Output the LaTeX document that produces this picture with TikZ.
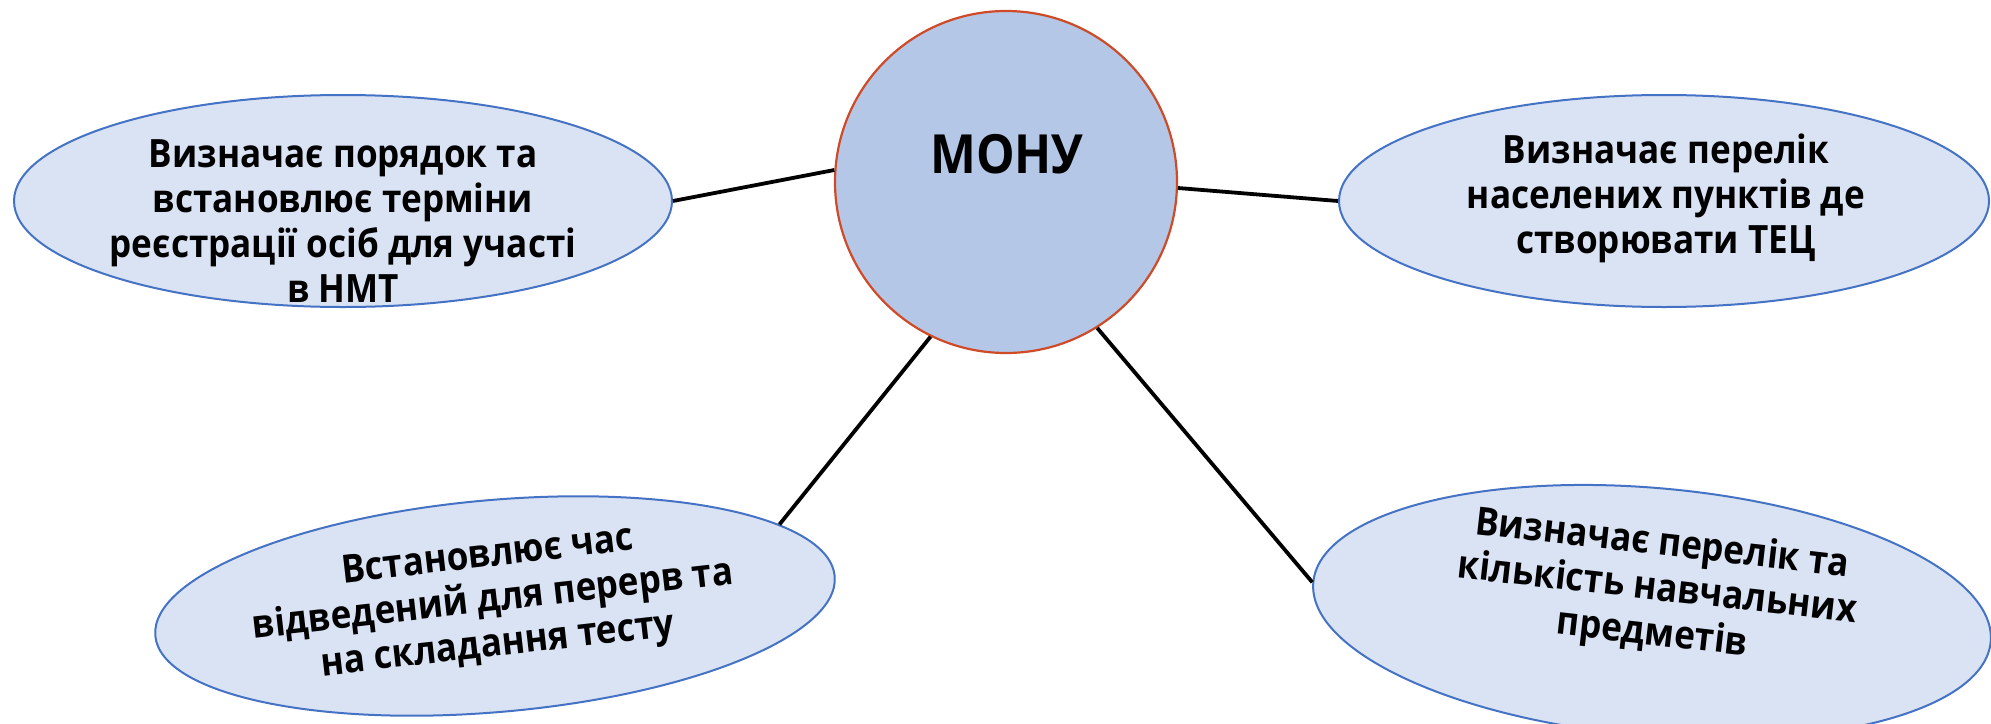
\documentclass[tikz,border=0pt]{standalone}
\usepackage{fontspec}
\usetikzlibrary{shapes.geometric}
\newfontfamily\mfont{Open Sans}[FakeStretch=0.9]
\definecolor{hubfill}{HTML}{B4C7E7}
\definecolor{hubline}{HTML}{CF4A26}
\definecolor{bubfill}{HTML}{DAE3F3}
\definecolor{bubline}{HTML}{4472C4}
\tikzset{
  hub/.style={circle, fill=hubfill, draw=hubline, line width=1.1pt, inner sep=0pt, minimum size=171pt},
  bubble/.style={ellipse, fill=bubfill, draw=bubline, line width=1pt, inner sep=0pt},
  txt/.style={align=center, font=\mfont\bfseries\fontsize{19.5}{22.5}\selectfont},
  link/.style={line width=1.9pt, black}
}
\begin{document}
\begin{tikzpicture}[x=0.5pt, y=-0.5pt]
    \useasboundingbox (0,0) rectangle (1991,723);

    % links first, nodes painted over them
    \node[hub] (mon) at (1006,182) {};
    \node[bubble, minimum width=329pt, minimum height=106pt] (tl) at (343,201) {};
    \node[bubble, minimum width=325pt, minimum height=106pt] (tr) at (1664,201) {};
    \node[bubble, minimum width=341pt, minimum height=106pt, rotate=5] (bl) at (495,606) {};
    \node[bubble, minimum width=340pt, minimum height=124pt, rotate=-5] (br) at (1652,612) {};

    \draw[link] (mon.176) -- (tl.east);
    \draw[link] (mon.-2) -- (tr.west);
    \draw[link] (mon.-116) -- (bl.11);
    \draw[link] (mon.-58) -- (br.west);

    \node[font=\mfont\bfseries\fontsize{27}{30}\selectfont] (mon-txt) at (1007,154) {МОНУ};

    \node[txt] (tl-txt) at (343,221) {Визначає порядок та\\встановлює терміни\\реєстрації осіб для участі\\в НМТ};
    \node[txt] (tr-txt) at (1666,198) {Визначає перелік\\населених пунктів де\\створювати ТЕЦ};
    \node[txt, rotate=6.5] (bl-txt) at (493,602) {Встановлює час\\відведений для перерв та\\на складання тесту};
    \node[txt, rotate=-6.5] (br-txt) at (1657,590) {Визначає перелік та\\кількість навчальних\\предметів};
\end{tikzpicture}
\end{document}
